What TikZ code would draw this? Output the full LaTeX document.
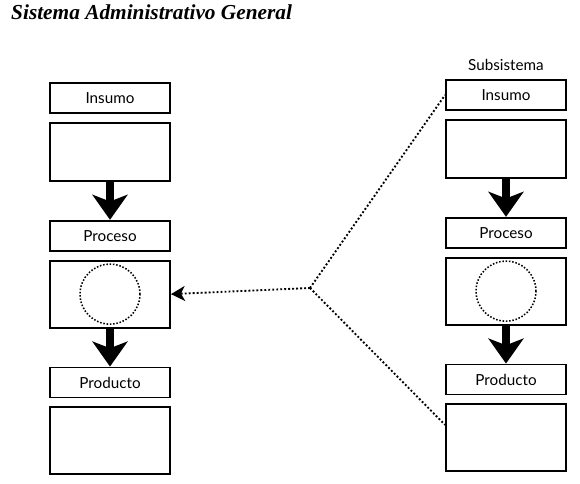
\documentclass[tikz,border=0pt]{standalone}
\usepackage{fontspec}
\usepackage{tikz}
\usetikzlibrary{positioning,arrows.meta}
\newfontfamily\lblfont{Lato}
\newfontfamily\titfont{Liberation Serif}

\begin{document}
\begin{tikzpicture}[x=0.03cm,y=-0.03cm,font=\lblfont\fontsize{13}{15}\selectfont,
  node distance=0.24cm and 0cm,
  lbl/.style={draw,line width=1.6pt,minimum width=3.6cm,minimum height=0.9cm,inner sep=0pt},
  cont/.style={draw,line width=1.6pt,minimum width=3.6cm,minimum height=#1,inner sep=0pt},
  circ/.style={draw,circle,line width=1.3pt,dash pattern=on 1.3pt off 1.5pt,minimum size=1.8cm,inner sep=0pt},
  flecha/.style={line width=0.24cm,-{Stealth[length=0.75cm,width=1.05cm,inset=0.2cm]}},
  punteado/.style={line width=1.6pt,dash pattern=on 1.6pt off 1.8pt}]
 \useasboundingbox (0,0) rectangle (580,484);
 \node[anchor=base west,inner sep=0pt,font=\titfont\bfseries\itshape\fontsize{18.2}{20}\selectfont]
   (titulo) at (11,20) {Sistema Administrativo General};
 % sistema general
 \node[lbl] (li) at (110,98) {Insumo};
 \node[cont=1.74cm,below=of li] (lic) {};
 \node[lbl,below=1.14cm of lic] (lp) {Proceso};
 \node[cont=2.01cm,below=of lp] (lpc) {};
 \node[circ] (lcir) at (lpc) {};
 \node[lbl,below=1.14cm of lpc] (lo) {Producto};
 \node[cont=2.01cm,below=of lo] (loc) {};
 \draw[flecha] (lic) -- (lp); \draw[flecha] (lpc) -- (lo);
 % subsistema
 \node[lbl] (ri) at (506,95) {Insumo};
 \node[above=0.12cm of ri] (sub) {Subsistema};
 \node[cont=1.74cm,below=of ri] (ric) {};
 \node[lbl,below=1.14cm of ric] (rp) {Proceso};
 \node[cont=2.01cm,below=of rp] (rpc) {};
 \node[circ] (rcir) at (rpc) {};
 \node[lbl,below=1.14cm of rpc] (ro) {Producto};
 \node[cont=2.01cm,below=of ro] (roc) {};
 \draw[flecha] (ric) -- (rp); \draw[flecha] (rpc) -- (ro);
 % enlace
 \coordinate (j) at (310,288);
 \draw[punteado,-{Stealth[length=0.42cm,width=0.45cm,inset=0.12cm]}] (j) -- (lpc.east);
 \draw[punteado] (j) -- (ri.west);
 \draw[punteado] (j) -- ([yshift=0.39cm]roc.west);
\end{tikzpicture}
\end{document}
